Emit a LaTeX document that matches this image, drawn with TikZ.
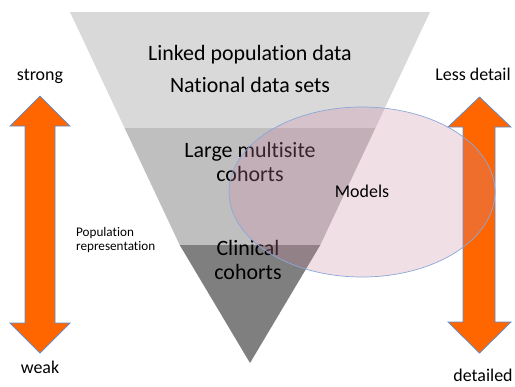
\documentclass[tikz,border=0pt]{standalone}
\usepackage{fontspec}
\setmainfont{Carlito}[Ligatures=NoCommon]
\begin{document}
\begin{tikzpicture}[x=1bp,y=-1bp,
  bigtext/.style={font=\fontsize{22}{24}\selectfont, anchor=base, align=center, inner sep=0pt},
  sidetext/.style={font=\fontsize{18}{21}\selectfont, anchor=base, inner sep=0pt},
  fatarrow/.style={fill=arroworange, draw=arrowedge, line width=0.7bp, line join=miter},
]
\definecolor{bandtop}{HTML}{D9D9D9}
\definecolor{bandmid}{HTML}{BFBFBF}
\definecolor{bandlow}{HTML}{7F7F7F}
\definecolor{arroworange}{HTML}{FF6600}
\definecolor{arrowedge}{HTML}{5B8BD0}
\definecolor{modelpink}{RGB}{203,135,163}
\definecolor{modeledge}{HTML}{8AA8D8}

\useasboundingbox (0,0) rectangle (515,386);

% inverted triangle split into three bands
\fill[bandtop] (70,12) -- (430,12) -- (375.4,128) -- (124.6,128) -- cycle;
\fill[bandmid] (124.6,128) -- (375.4,128) -- (320.3,245) -- (179.7,245) -- cycle;
\fill[bandlow] (179.7,245) -- (320.3,245) -- (250,363) -- cycle;

% double-headed arrows
\draw[fatarrow] (40,96) -- (70,126) -- (55,126) -- (55,323) -- (70,323) -- (40,353)
  -- (10,323) -- (25,323) -- (25,126) -- (10,126) -- cycle;
\draw[fatarrow] (479.5,97) -- (511,127) -- (495,127) -- (495,322) -- (511,322) -- (479.5,353)
  -- (448,322) -- (463,322) -- (463,127) -- (448,127) -- cycle;

% band labels
\node[bigtext] (linked) at (250,60) {Linked population data};
\node[bigtext] (national) at (250,92.7) {National data sets};
\node[bigtext] (large) at (250,181.7) {Large multisite\\cohorts};
\node[bigtext] (clinical) at (248,279.3) {Clinical\\cohorts};

% models overlay
\fill[modelpink, fill opacity=0.27] (362,192) ellipse [x radius=133, y radius=85];
\draw[modeledge, line width=0.7bp] (362,192) ellipse [x radius=133, y radius=85];
\node[font=\fontsize{18}{21}\selectfont, anchor=base, inner sep=0pt] (models) at (362,197.7) {Models};

% side labels
\node[sidetext] (strong) at (40,80.5) {strong};
\node[sidetext] (weak) at (40,373) {weak};
\node[sidetext] (lessdetail) at (473,80) {Less detail};
\node[sidetext] (detailed) at (483,381.7) {detailed};
\node[font=\fontsize{13.2}{13.5}\selectfont, anchor=base west, align=left, inner sep=0pt] (poprep) at (76,250) {Population\\representation};
\end{tikzpicture}
\end{document}
